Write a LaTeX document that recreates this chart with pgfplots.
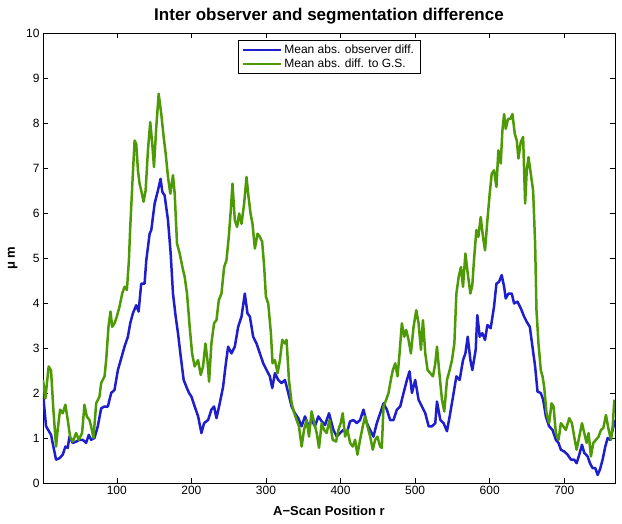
\documentclass[border=0pt]{standalone}
\usepackage{fontspec}
\setmainfont{Liberation Sans}
\usepackage{pgfplots}
\pgfplotsset{compat=1.18}
\definecolor{mblue}{RGB}{30,30,205}
\definecolor{mgreen}{RGB}{78,154,6}
\begin{document}
\begin{tikzpicture}
\useasboundingbox (-43pt,-40pt) rectangle (579pt,483pt);
\begin{axis}[
  scale only axis, width=572pt, height=450pt,
  xmin=1, xmax=768, ymin=0, ymax=10,
  xtick={100,200,300,400,500,600,700},
  ytick={0,1,2,3,4,5,6,7,8,9,10},
  tick align=inside, tick pos=both,
  major tick length=5pt,
  every tick/.style={black, line width=0.5pt},
  axis line style={black, line width=0.6pt},
  /pgf/number format/assume math mode=true,
  ticklabel style={font=\fontsize{12}{14}\selectfont},
  title={Inter observer and segmentation difference},
  every axis title/.style={at={(axis description cs:0.5,1)}, anchor=center, yshift=17pt, font=\bfseries\fontsize{17}{20}\selectfont},
  xlabel={A−Scan Position r},
  every axis x label/.style={at={(axis description cs:0.5,0)}, anchor=center, yshift=-28pt, font=\bfseries\fontsize{13}{15}\selectfont},
  ylabel={μ m},
  every axis y label/.style={at={(axis description cs:-0.053,0.5)}, anchor=center, rotate=90, font=\bfseries\fontsize{13}{15}\selectfont},
  legend style={at={(0.5,1)}, anchor=north, yshift=-7pt, draw=black, line width=0.5pt, fill=white,
    font=\fontsize{12}{14}\selectfont, inner xsep=4pt, inner ysep=2.5pt, row sep=0pt, legend cell align=left},
  legend cell align=left,
  legend image code/.code={\draw[#1, line width=2.4pt] (0pt,0pt) -- (38pt,0pt);},
]
\addplot[mblue, line width=2.5pt, line join=round] coordinates {
(1,2.0) (5.1,1.26) (11.8,1.07) (14.9,0.81) (18.5,0.52) (23,0.55) (27.5,0.63) (31,0.81) (34.2,0.78) (36.4,1.03)
(40.9,0.89) (45.4,0.92) (49.9,0.96) (54.3,0.96) (58.8,0.89) (62.4,1.07) (65.5,0.96) (70,1.0) (74.5,1.26) (79,1.66)
(83.5,1.70) (88,1.70) (92.4,2.0) (96.9,2.07) (101.4,2.51) (105.9,2.77) (110.3,3.03) (114.8,3.25) (118,3.55) (121.5,3.77)
(126,3.95) (129.2,3.81) (132.7,4.43) (137.2,4.43) (139.5,4.95) (144,5.54) (146.2,5.62) (150.7,6.21) (155.1,6.50) (158.7,6.76)
(161,6.47) (164.1,6.39) (168.6,5.84) (172.2,5.10) (175.3,4.21) (178.9,3.70) (182,3.33) (185.2,2.88) (189.6,2.29) (193.2,2.14)
(196.8,2.0) (200,1.92) (204.4,1.70) (209,1.48) (213.4,1.11) (217,1.33) (222.4,1.40) (226.8,1.63) (230.4,1.70) (233.6,1.44)
(238,1.77) (242.5,2.14) (245.7,2.59) (249.2,3.03) (253.7,2.88) (258.2,3.03) (262.7,3.47) (267.2,3.70) (271.6,4.21) (275.2,3.77)
(278.4,3.70) (282.8,3.25) (287.3,3.10) (291.8,2.88) (296.3,2.66) (300.8,2.51) (305.2,2.37) (308.4,2.11) (312,2.44) (316.4,2.29)
(320.9,2.22) (325.4,2.29) (329.9,2.0) (334.4,1.70) (338.8,1.55) (343.3,1.44) (347.8,1.26) (352.3,1.48) (356.8,1.26) (361.2,1.40)
(365.7,1.26) (370.2,1.48) (374.7,1.37) (379.2,1.29) (384.5,1.55) (390.4,1.18) (394.9,1.03) (399.3,1.11) (403.8,1.18) (408.3,1.11)
(412.8,1.37) (417.3,1.40) (421.7,1.33) (426.2,1.40) (430.7,1.63) (435.2,1.33) (439.7,1.18) (444.1,1.03) (448.6,1.33) (453.1,1.55)
(457.6,1.77) (462.1,1.63) (466.5,1.40) (471,1.40) (475.5,1.63) (480,1.70) (484.5,2.0) (489,2.29) (492.5,2.48) (495.7,2.0)
(500.1,2.29) (504.6,1.85) (509.1,1.70) (513.6,1.55) (518.1,1.26) (522.5,1.26) (527,1.33) (529.3,1.81) (533.8,1.40) (538.2,1.33)
(542.7,1.15) (546.3,1.48) (550.8,1.92) (555.3,2.37) (559.7,2.29) (564.2,2.73) (567.4,2.88) (570.5,3.25) (574.1,2.73) (576.7,2.51)
(581.2,2.96) (583.4,3.73) (586.6,3.25) (590.1,3.33) (593.7,3.18) (596.9,3.51) (601.3,3.44) (605.8,3.92) (609,4.43) (612.5,4.47)
(616.1,4.62) (619.3,4.36) (621.5,4.10) (625.1,4.21) (629.6,4.21) (632.7,3.99) (637.2,4.03) (641.7,3.88) (646.1,3.70) (649.7,3.58)
(653.8,3.47) (657.3,3.03) (660.9,2.59) (664.1,2.03) (668.5,2.0) (671.7,1.85) (675.3,1.48) (679.7,1.26) (684.2,1.18) (688.7,0.96)
(692.3,0.89) (695.4,0.74) (699.9,0.70) (704.4,0.63) (708.9,0.52) (713.3,0.52) (716.5,0.44) (720.1,0.63) (723.7,0.85) (726.8,0.67)
(731.3,0.59) (734.4,0.44) (738,0.33) (741.6,0.33) (744.7,0.18) (747.8,0.30) (751.4,0.52) (755,0.81) (758.1,1.0) (761.3,0.96)
(764.9,1.18) (768,1.40)
};
\addlegendentry{Mean abs. observer diff.}
\addplot[mgreen, line width=2.5pt, line join=round] coordinates {
(1,2.29) (4.2,1.88) (8.6,2.59) (11.8,2.5) (14.9,1.63) (18.5,0.81) (20.7,1.18) (23.9,1.63) (27.5,1.55) (31,1.74)
(34.2,1.40) (37.3,1.03) (40.9,0.92) (45.4,1.11) (49,0.96) (53.4,1.11) (56.6,1.74) (59.7,1.48) (63.3,1.40) (65.5,1.26)
(68.7,1.0) (72.3,1.77) (76.7,1.92) (79,2.22) (83.5,2.37) (85.7,2.73) (88.8,3.47) (91.5,3.81) (93.8,3.47) (96.9,3.55)
(100,3.70) (103.6,3.92) (107.2,4.21) (110.3,4.36) (113.5,4.29) (116.2,4.95) (118,5.69) (120.6,6.58) (123.8,7.61) (126,7.54)
(128.3,6.95) (130.5,6.65) (132.7,6.50) (135.9,6.25) (138.6,6.50) (141.7,7.39) (144.8,8.02) (147.5,7.54) (149.8,7.02) (152.9,7.91)
(156.1,8.65) (159.6,8.20) (162.8,7.69) (165.5,7.32) (168.6,6.80) (171.7,6.43) (175.3,6.84) (177.6,6.43) (180.7,5.32) (184.3,5.10)
(187.9,4.80) (191,4.58) (194.1,4.21) (197.7,3.47) (200.9,2.88) (204.4,2.59) (208.9,2.73) (212.5,2.40) (215.6,2.59) (218.8,3.10)
(221.5,2.73) (223.7,2.25) (226.8,3.10) (230.4,3.55) (233.6,3.62) (236.7,4.06) (240.3,4.21) (243.9,4.80) (247,4.95) (250.1,5.47)
(252.8,6.06) (255.1,6.65) (258.2,5.84) (261.3,5.69) (264,5.99) (267.2,5.76) (270.7,6.21) (273.9,6.80) (276.1,6.43) (279.3,5.99)
(281.9,5.76) (285.1,5.21) (288.7,5.54) (291.8,5.47) (294.9,5.36) (297.6,4.80) (299.9,4.14) (303,3.99) (306.6,3.33) (308.8,2.66)
(312,2.73) (315.6,2.44) (318.7,2.73) (321.8,3.18) (325.4,3.10) (327.6,3.18) (330.8,2.29) (334.4,1.77) (338,1.55) (341.1,1.40)
(344.2,1.26) (347.8,0.81) (351,1.18) (354.5,1.40) (357.7,1.03) (361.2,1.59) (364.8,1.33) (368,1.11) (371.1,0.78) (374.7,1.33)
(377.8,1.18) (381.4,1.11) (385,1.40) (389.5,0.96) (394,0.92) (397.1,1.18) (400.2,1.33) (402.9,1.55) (406.1,1.03) (409.2,1.18)
(412.8,0.89) (416.4,0.81) (419.5,0.96) (422.6,0.63) (426.2,0.96) (429.8,1.26) (432.9,1.48) (436.1,1.26) (439.7,1.03) (443.2,0.74)
(446.4,0.96) (449.5,1.03) (453.1,0.81) (455.3,0.78) (457.6,1.70) (461.2,1.85) (464.3,2.0) (467.4,2.29) (470.1,2.51) (473.3,2.66)
(476.4,2.37) (479.1,2.88) (482.2,3.55) (485.4,3.25) (488,3.40) (491.2,3.18) (494.3,2.88) (497.9,3.47) (501.5,3.84) (504.6,3.55)
(507.8,2.96) (510.5,3.62) (513.6,2.88) (516.7,2.51) (520.3,2.44) (523.9,2.37) (527,2.66) (529.3,3.03) (532.9,2.37) (536,1.85)
(539.1,1.59) (542.7,2.29) (546.3,2.51) (549.4,2.73) (552.6,3.10) (555.3,4.21) (558.4,4.58) (561.5,4.80) (564.2,4.36) (567.4,5.10)
(570.5,4.66) (574.1,4.21) (576.7,4.40) (578.9,4.95) (582.1,5.62) (584.8,5.47) (587.9,5.91) (591,5.47) (593.7,5.17) (596.9,5.84)
(600,6.43) (602.7,6.87) (605.8,6.95) (609,6.58) (611.6,7.39) (614.8,7.10) (617,7.83) (619.3,8.20) (621.5,7.87) (624.6,8.09)
(627.8,8.09) (630.5,8.20) (633.6,7.76) (636.3,7.61) (638.5,7.21) (641.7,7.58) (644.8,7.69) (647.5,6.21) (649.7,6.95) (652,7.24)
(655.1,6.87) (658.2,6.50) (660.9,5.32) (662.7,3.84) (665.4,3.10) (668.5,2.51) (670.8,2.37) (673,2.14) (676.2,1.55) (679.7,1.33)
(682.9,1.77) (685.6,1.70) (688.7,1.11) (692.3,0.96) (695.4,1.33) (698.6,1.26) (702.1,1.18) (706.6,1.44) (710.2,1.33) (713.3,1.03)
(716.5,0.74) (720.1,1.03) (723.7,1.33) (726.8,1.11) (729.9,0.89) (732.6,1.11) (735.7,0.59) (738.9,0.89) (742.5,0.96) (746,1.03)
(749.2,1.18) (752.3,1.22) (755.9,1.51) (759.5,1.18) (762.6,0.96) (764.9,1.26) (767.1,1.85)
};
\addlegendentry{Mean abs. diff. to G.S.}
\end{axis}
\end{tikzpicture}
\end{document}
